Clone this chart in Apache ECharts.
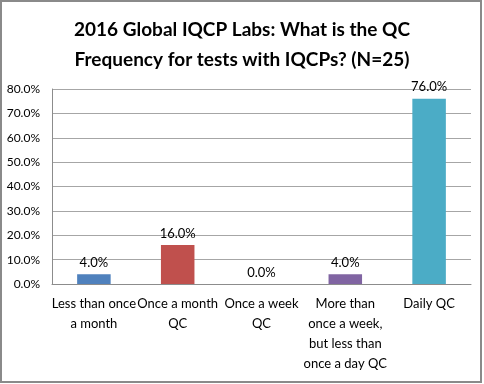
<!DOCTYPE html>
<html><head><meta charset="utf-8">
<script src="https://cdn.jsdelivr.net/npm/echarts@6/dist/echarts.min.js"></script>
<style>html,body{margin:0;padding:0;background:#fff}#c{width:484px;height:384px}</style>
</head><body><div id="c"></div>
<script>
const categories = ["Less than once\na month", "Once a month\nQC", "Once a week\nQC", "More than\nonce a week,\nbut less than\nonce a day QC", "Daily QC"];
const values = [4.0, 16.0, 0.0, 4.0, 76.0];
const barColors = ["#4F81BD", "#C0504D", "#9BBB59", "#8064A2", "#4BACC6"];
const titleText = "2016 Global IQCP Labs: What is the QC\nFrequency for tests with IQCPs? (N=25)";
const font = "Lato, 'Open Sans', sans-serif";
const chart = echarts.init(document.getElementById('c'), null, {renderer: 'canvas'});
chart.setOption({
  animation: false,
  title: {
    text: titleText, left: 'center', top: 10,
    textStyle: {fontFamily: font, fontSize: 19, fontWeight: 'bold', color: '#000', lineHeight: 30}
  },
  graphic: [{type: 'rect', shape: {x: 1, y: 1, width: 480, height: 381}, style: {fill: 'none', stroke: '#8a8a8a', lineWidth: 2}, silent: true}],
  grid: {left: 52, right: 13, top: 89, bottom: 100},
  xAxis: {
    type: 'category', data: categories,
    axisLine: {lineStyle: {color: '#8c8c8c'}},
    axisTick: {show: false},
    axisLabel: {interval: 0, fontFamily: font, fontSize: 13, color: '#000', lineHeight: 20, margin: 10}
  },
  yAxis: {
    type: 'value', min: 0, max: 80, interval: 10,
    axisLine: {show: true, lineStyle: {color: '#8c8c8c'}},
    axisTick: {show: false},
    splitLine: {lineStyle: {color: '#a6a6a6'}},
    axisLabel: {fontFamily: font, fontSize: 12, color: '#000', margin: 12, formatter: v => v.toFixed(1) + '%'}
  },
  series: [{
    type: 'bar', barWidth: '40%',
    data: values.map((v, i) => ({value: v, itemStyle: {color: barColors[i]}})),
    label: {show: true, position: 'top', distance: 5, fontFamily: font, fontSize: 13, color: '#000', formatter: p => p.value.toFixed(1) + '%'}
  }]
});
</script></body></html>
